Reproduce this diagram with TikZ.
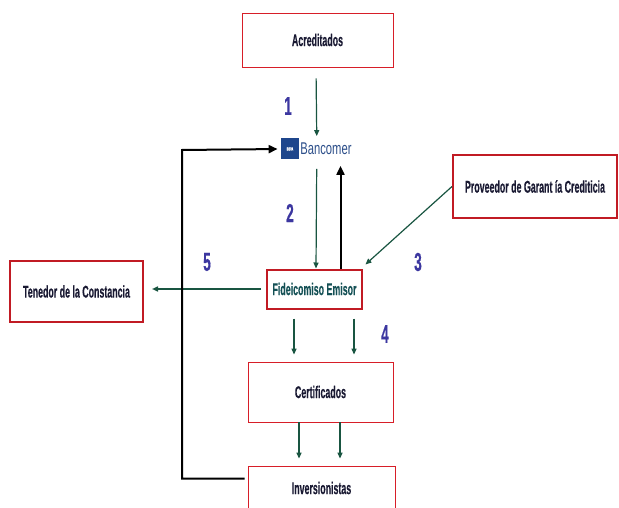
\documentclass[tikz,border=0pt]{standalone}
\usepackage{fontspec}
\setmainfont{Liberation Sans}[FakeStretch=0.52, BoldFeatures={FakeBold=0.4}]
\newfontfamily\bankfont{Liberation Sans}[FakeStretch=0.66]
\usetikzlibrary{positioning, fit, arrows.meta}
\definecolor{boxred}{RGB}{215,30,40}
\definecolor{flowgreen}{RGB}{25,85,65}
\definecolor{numblue}{RGB}{60,55,160}
\definecolor{bbvablue}{RGB}{30,70,140}
\definecolor{textnavy}{RGB}{25,25,50}
\definecolor{fidteal}{RGB}{20,80,85}

\begin{document}
\begin{tikzpicture}[x=1pt, y=-1pt,
    party/.style = {draw=boxred, line width=0.8pt, inner sep=0pt, text=textnavy, font=\fontsize{17}{19}\selectfont\bfseries},
    mainparty/.style = {party, line width=2pt, draw=boxred!90!black},
    num/.style = {text=numblue, font=\fontsize{26}{27}\selectfont\bfseries},
    flow/.style = {draw=flowgreen, line width=1.2pt, -{Triangle[length=6pt, width=5pt]}},
    back/.style = {draw=black, line width=2pt, -{Triangle[length=9pt, width=8pt]}}]
    \useasboundingbox (0,0) rectangle (619,508);
    \node[party, minimum width=151pt, minimum height=54pt] (acred) at (317.5,40) {Acreditados};
    \node[fill=bbvablue, text=white, inner sep=0pt, minimum width=18pt, minimum height=21pt, font=\fontsize{4.5}{5}\selectfont\bfseries] (bbva) at (290,149) {BBVA};
    \node[right=1pt of bbva, inner sep=0pt, text=bbvablue!85!gray, font=\bankfont\fontsize{17}{18}\selectfont] (bankname) {Bancomer};
    \node[fit=(bbva)(bankname), inner sep=0pt] (bank) {};
    \node[mainparty, minimum width=95pt, minimum height=39pt, text=fidteal] (fid) at (314.5,289) {Fideicomiso Emisor};
    \node[mainparty, minimum width=164pt, minimum height=63pt] (prov) at (535,186.5) {Proveedor de Garant ía Crediticia};
    \node[mainparty, minimum width=133pt, minimum height=61pt] (tened) at (76.5,291.5) {Tenedor de la Constancia};
    \node[party, minimum width=145pt, minimum height=60pt] (cert) at (320.5,392) {Certificados};
    \node[party, minimum width=147pt, minimum height=44pt] (inv) at (321.5,488) {Inversionistas};
    \node[num] (n1) at (288,106) {1};
    \node[num] (n2) at (290,213) {2};
    \node[num] (n3) at (418,262) {3};
    \node[num] (n4) at (385,334) {4};
    \node[num] (n5) at (207,262) {5};
    \coordinate (loop) at (182,150);
    \draw[flow, shorten <=11pt, shorten >=2pt] ([xshift=-1.5pt]acred.south) -- ([xshift=0.5pt]bank.north);
    \draw[flow, shorten <=9pt] ([xshift=0.5pt]bank.south) -- ([xshift=1.5pt]fid.north);
    \draw[back, shorten >=6pt] ([xshift=26pt]fid.north) -- ([xshift=26pt]fid.north |- bank.south);
    \draw[flow, shorten >=6pt] (prov.west) -- ([xshift=-2pt]fid.north east);
    \draw[flow, line width=2pt, shorten <=5pt, shorten >=8pt] (fid.west) -- (fid.west -| tened.east);
    \draw[flow, shorten <=9pt, shorten >=7pt] ([xshift=-20.5pt]fid.south) -- ([xshift=-20.5pt]fid.south |- cert.north);
    \draw[flow, shorten <=9pt, shorten >=7pt] ([xshift=39.5pt]fid.south) -- ([xshift=39.5pt]fid.south |- cert.north);
    \draw[flow, shorten >=7pt] ([xshift=-21.5pt]cert.south) -- ([xshift=-21.5pt]cert.south |- inv.north);
    \draw[flow, shorten >=7pt] ([xshift=19.5pt]cert.south) -- ([xshift=19.5pt]cert.south |- inv.north);
    \draw[back, shorten <=3pt, shorten >=3pt] ([yshift=-13pt]inv.north west) -| (loop) -- (bank.west);
\end{tikzpicture}
\end{document}
